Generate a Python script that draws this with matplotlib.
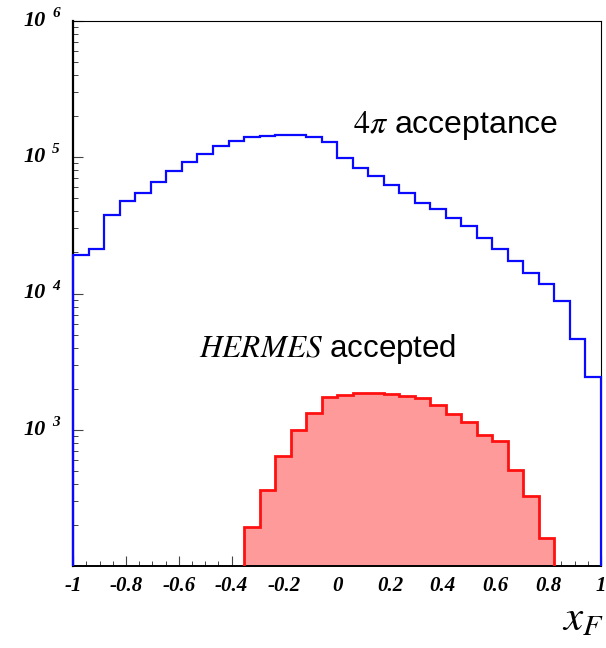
import numpy as np
import matplotlib.pyplot as plt
from matplotlib.ticker import FixedLocator, LogLocator, NullFormatter

plt.rcParams.update({
    'mathtext.fontset': 'stix',
    'font.family': 'Liberation Sans',
})

# x_F binning: 34 bins between -1 and 1
n_bins = 34
x_lo, x_hi = -1.0, 1.0

# events per bin, full 4pi acceptance
all_xf = [19150, 21300, 38000, 47600, 54700, 65500, 78800, 92200, 106200, 121500,
          130700, 140500, 143800, 144600, 144600, 141000, 128500, 98600, 83400, 72500,
          63000, 54700, 46200, 41400, 35900, 31200, 25700, 21100, 17300, 14200,
          11800, 8830, 4630, 2430]

# events per bin inside the HERMES acceptance (bins 11..30, others empty)
hermes_first = 11
hermes_xf = [192, 364, 638, 1000, 1322, 1753, 1812, 1854, 1875, 1834,
             1773, 1714, 1524, 1309, 1137, 919, 826, 504, 325, 161]

xticks = [-1, -0.8, -0.6, -0.4, -0.2, 0, 0.2, 0.4, 0.6, 0.8, 1]
xtick_labels = ['-1', '-0.8', '-0.6', '-0.4', '-0.2', '0', '0.2', '0.4', '0.6', '0.8', '1']
ydecades = [1e3, 1e4, 1e5, 1e6]
ydecade_exp = ['3', '4', '5', '6']

edges = np.linspace(x_lo, x_hi, n_bins + 1)
h_edges = edges[hermes_first:hermes_first + len(hermes_xf) + 1]

W, H = 606, 648
fig = plt.figure(figsize=(W / 100, H / 100), dpi=100)
ax = fig.add_axes([73.3 / W, 1 - 566 / H, (601 - 73.3) / W, (566 - 21) / H])

ax.set_yscale('log')
ax.set_xlim(x_lo, x_hi)
ax.set_ylim(100, 1e6)

ax.stairs(hermes_xf, h_edges, baseline=100, fill=True, color='#ff9a9a', lw=0, zorder=2)
ax.stairs(hermes_xf, h_edges, baseline=100, color='#ff1010', lw=2.0, zorder=3)
ax.stairs(all_xf, edges, baseline=100, color='#0a0aff', lw=1.6, zorder=4, clip_on=False)

# frame and ticks
for s in ax.spines.values():
    s.set_linewidth(0.8)
ax.spines['left'].set_linewidth(1.6)
ax.spines['bottom'].set_linewidth(1.4)

ax.xaxis.set_major_locator(FixedLocator(xticks))
ax.xaxis.set_minor_locator(FixedLocator(np.arange(-1, 1.001, 0.05)))
ax.set_xticklabels(xtick_labels, family='Liberation Serif', weight='bold',
                   style='italic', size=15)
ax.tick_params(axis='x', which='major', direction='in', length=7, width=0.8,
               color='#444444', pad=7)
ax.tick_params(axis='x', which='minor', direction='in', length=3.5, width=0.7,
               color='#444444')

ax.yaxis.set_major_locator(FixedLocator(ydecades))
ax.yaxis.set_minor_locator(LogLocator(base=10, subs=np.arange(2, 10)))
ax.yaxis.set_minor_formatter(NullFormatter())
ax.set_yticklabels([])
ax.tick_params(axis='y', which='major', direction='in', length=7, width=0.8,
               color='#444444')
ax.tick_params(axis='y', which='minor', direction='in', length=3.5, width=0.7,
               color='#444444')

# decade labels drawn as "10" plus a raised exponent
ytr = ax.get_yaxis_transform()
for v, e in zip(ydecades, ydecade_exp):
    ax.text(-0.052, v, '10', transform=ytr, ha='right', va='center',
            family='Liberation Serif', weight='bold', style='italic', size=16)
    ax.text(-0.040, v * 10 ** 0.055, e, transform=ytr, ha='left', va='center',
            family='Liberation Serif', weight='bold', style='italic', size=11)

fig.text(353 / W, 1 - 133 / H, r'$4\pi$ acceptance', size=23, va='baseline')
fig.text(199 / W, 1 - 357 / H, r'$\mathit{HERMES}$ accepted', size=22.5, va='baseline')
fig.text(562 / W, 1 - 630 / H, r'$x_F$', size=31, va='baseline')

fig.savefig('out.png', dpi=100)
